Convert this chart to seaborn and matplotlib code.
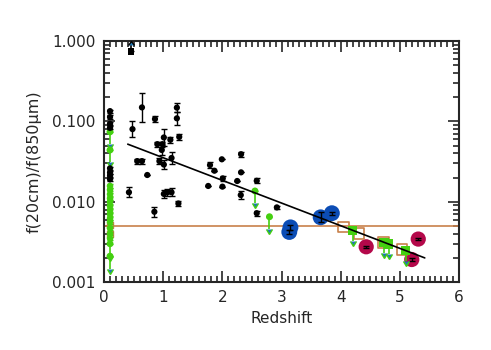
import numpy as np
import pandas as pd
import seaborn as sns
import matplotlib.pyplot as plt
from matplotlib.ticker import MultipleLocator, FixedLocator, NullFormatter

# black detections (z, f20cm/f850um, error in dex)
black_z = [0.48, 0.64, 0.86, 1.23, 1.23, 1.27, 1.01, 1.12, 0.90, 0.985, 0.975, 1.14,
           0.935, 1.01, 0.56, 0.64, 0.73, 0.42, 1.01, 1.07, 1.14, 1.256, 0.85,
           1.76, 1.79, 1.865, 1.99, 2.006, 2.00, 2.25, 2.315, 2.315, 2.31, 2.58, 2.58, 2.92,
           0.1, 0.1, 0.1, 0.1, 0.1, 0.1, 0.1, 0.1]
black_f = [0.080, 0.149, 0.107, 0.148, 0.109, 0.064, 0.063, 0.059, 0.052, 0.052, 0.044, 0.035,
           0.032, 0.029, 0.032, 0.032, 0.0215, 0.0131, 0.0125, 0.0131, 0.0131, 0.0095, 0.0075,
           0.0157, 0.0286, 0.0243, 0.0337, 0.0195, 0.0154, 0.0181, 0.039, 0.0232, 0.0121, 0.0182, 0.0072, 0.0085,
           0.134, 0.113, 0.093, 0.083, 0.026, 0.023, 0.021, 0.019]
black_dex = [0.10, 0.18, 0.04, 0.06, 0.08, 0.04, 0.10, 0.04, 0.03, 0.03, 0.06, 0.08,
             0.04, 0.06, 0.03, 0.03, 0.0, 0.06, 0.05, 0.04, 0.05, 0.03, 0.06,
             0.0, 0.04, 0.0, 0.0, 0.03, 0.0, 0.0, 0.03, 0.0, 0.05, 0.03, 0.03, 0.02,
             0.02, 0.02, 0.02, 0.02, 0.02, 0.02, 0.02, 0.02]

# lower limit (black square)
lowlim_z = [0.45]
lowlim_f = [0.74]

# green detections at low z
green_z = [0.1] * 13
green_f = [0.0157, 0.0141, 0.0124, 0.011, 0.0099, 0.0088, 0.0078, 0.0070, 0.0062,
           0.0056, 0.0047, 0.0040, 0.0035]

# green upper limits (circles)
green_ul_z = [0.1, 0.1, 0.1, 0.1, 2.55, 2.795]
green_ul_f = [0.074, 0.044, 0.0030, 0.0021, 0.0136, 0.0065]

# green upper limits (squares)
gsq_z = [4.20, 4.73, 4.81, 5.10]
gsq_f = [0.00435, 0.00308, 0.00297, 0.00245]

# orange open squares
osq_z = [4.045, 4.31, 4.72, 5.03]
osq_f = [0.0048, 0.00404, 0.00312, 0.00255]
osq_low_z = [0.1, 0.1]
osq_low_f = [0.0051, 0.0040]

# blue circles
blue_z = [3.15, 3.13, 3.66, 3.85]
blue_f = [0.0048, 0.0042, 0.0064, 0.0072]
blue_dex = [0.03, 0.03, 0.06, 0.02]

# crimson circles
red_z = [4.43, 5.31, 5.20]
red_f = [0.00275, 0.00343, 0.00191]
red_dex = [0.015, 0.015, 0.015]

# fit line and constant ratio
fit_z = [0.40, 5.42]
fit_f = [0.052, 0.0020]
const_f = 0.005

sns.set_style("ticks")
plt.rcParams["font.family"] = ["DejaVu Sans"]
fig = plt.figure(figsize=(4.91, 3.5), dpi=100)
ax = fig.add_axes([0.212, 0.194, 0.723, 0.689])
ax.set_yscale("log")

green = "#44d010"
orange = "#c8804a"
blue = "#0c4db5"
crimson = "#b4084a"


def dex_err(f, d):
    f = np.asarray(f)
    d = np.asarray(d)
    return [f * (1 - 10 ** -d), f * (10 ** d - 1)]


ax.axhline(const_f, color=orange, lw=1.2, zorder=1)

# big circles
sns.scatterplot(x=blue_z, y=blue_f, color=blue, s=130, edgecolor="none", ax=ax, zorder=3)
sns.scatterplot(x=red_z, y=red_f, color=crimson, s=120, edgecolor="none", ax=ax, zorder=3)
ax.errorbar(blue_z, blue_f, yerr=dex_err(blue_f, blue_dex), fmt="none", ecolor="black",
            elinewidth=1, capsize=2, zorder=4)
ax.errorbar(red_z, red_f, yerr=dex_err(red_f, red_dex), fmt="none", ecolor="black",
            elinewidth=1, capsize=2, zorder=4)

# orange open squares
sns.scatterplot(x=osq_z, y=osq_f, marker="s", s=55, facecolor="none", edgecolor=orange,
                linewidth=1.2, ax=ax, zorder=4)
sns.scatterplot(x=osq_low_z, y=osq_low_f, marker="s", s=18, facecolor="none", edgecolor=orange,
                linewidth=1.0, ax=ax, zorder=4)

# green squares with down arrows
ul = np.asarray(gsq_f) * 0.25
ax.errorbar(gsq_z, gsq_f, yerr=ul, uplims=True, fmt="none", ecolor=green,
            elinewidth=1.2, capsize=2.5, zorder=5)
sns.scatterplot(x=gsq_z, y=gsq_f, marker="s", s=45, color=green, edgecolor="none",
                ax=ax, zorder=5)

# green circles
ax.errorbar(green_z, green_f, yerr=dex_err(green_f, [0.02] * len(green_f)), fmt="none",
            ecolor=green, elinewidth=1, capsize=2, zorder=5)
sns.scatterplot(x=green_z, y=green_f, color=green, s=22, edgecolor="none", ax=ax, zorder=5)
ul = np.asarray(green_ul_f) * 0.3
ax.errorbar(green_ul_z, green_ul_f, yerr=ul, uplims=True, fmt="none", ecolor=green,
            elinewidth=1.2, capsize=2.5, zorder=5)
sns.scatterplot(x=green_ul_z, y=green_ul_f, color=green, s=25, edgecolor="none", ax=ax, zorder=5)

# black points
ax.errorbar(black_z, black_f, yerr=dex_err(black_f, black_dex), fmt="none", ecolor="black",
            elinewidth=1, capsize=2, zorder=6)
sns.scatterplot(x=black_z, y=black_f, color="black", s=20, edgecolor="none", ax=ax, zorder=6)

ax.errorbar(lowlim_z, lowlim_f, yerr=np.asarray(lowlim_f) * 0.2, lolims=True, fmt="none",
            ecolor="black", elinewidth=1.2, capsize=2, zorder=6)
sns.scatterplot(x=lowlim_z, y=lowlim_f, marker="s", color="black", s=20, edgecolor="none",
                ax=ax, zorder=6)

sns.lineplot(x=fit_z, y=fit_f, color="black", lw=1.2, ax=ax, zorder=7)

ax.set_xlim(0, 6)
ax.set_ylim(0.001, 1.0)
ax.xaxis.set_major_locator(MultipleLocator(1))
ax.xaxis.set_minor_locator(MultipleLocator(0.1))
ax.yaxis.set_major_locator(FixedLocator([0.001, 0.01, 0.1, 1.0]))
ax.set_yticklabels(["0.001", "0.010", "0.100", "1.000"])
ax.yaxis.set_minor_formatter(NullFormatter())
ax.tick_params(which="both", direction="in", top=True, right=True, labelsize=11, width=1.2)
ax.tick_params(which="major", length=8, pad=6)
ax.tick_params(which="minor", length=4)
for sp in ax.spines.values():
    sp.set_linewidth(1.5)
    sp.set_visible(True)

ax.set_xlabel("Redshift", fontsize=11)
ax.set_ylabel("f(20cm)/f(850μm)", fontsize=11.5, labelpad=8)

fig.savefig("out.png", dpi=100)
